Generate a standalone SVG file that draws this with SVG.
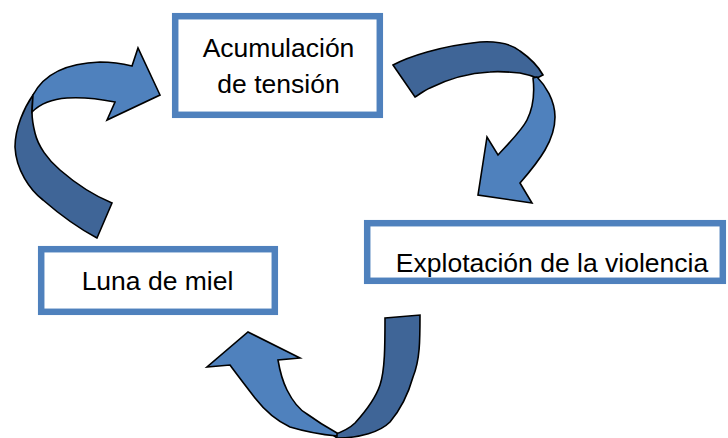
<svg xmlns="http://www.w3.org/2000/svg" width="728" height="438" viewBox="0 0 728 438">
<style>
.box{fill:#fff;stroke:#4F81BD;stroke-width:6.5}
.lbl{font-family:"Liberation Sans",Arial,sans-serif;font-size:26.5px;fill:#000;text-anchor:middle}
.lt{fill:#4F81BD;stroke:#000;stroke-width:1.6;stroke-linejoin:miter}
.dk{fill:#3F6597;stroke:#000;stroke-width:1.6;stroke-linejoin:miter}
</style>
<rect width="728" height="438" fill="#fff"/>
<g id="connectors">
<g id="arrow-left">
<path class="dk" d="M33,95 C24,108 15,128 15,147 C16,170 30,190 43,200 C58,213 78,228 97,238 L112,203 C95,196 75,183 60,170 C48,160 38,146 35,133 C33,125 32,118 32,112 Z"/>
<path class="lt" d="M33,95 C45,72 70,63 100,62 C112,62 124,64 132,66 L138,48 L160,95 L107,120 L115,102 C100,99 83,97 67,98 C52,99 40,104 32,112 Z"/>
</g>
<g id="arrow-right">
<path class="dk" d="M393,65 C408,57 440,46 480,42 C497,41 510,43 520,51 C530,58 538,66 543,75 L537,78 C530,75 525,74 520,73 C510,72 500,71 490,72 C470,73 450,78 430,88 C425,90 420,94 415,97 Z"/>
<path class="lt" d="M537,77 C545,85 555,100 555,117 C555,140 540,160 520,183 L532,203 L478,195 L487,137 L498,155 C510,142 522,130 527,120 C533,108 535,95 533,78 Z"/>
</g>
<g id="arrow-bottom">
<path class="dk" d="M385,318 L420,315 C420,340 420,360 413,377 C408,395 400,410 390,422 C380,432 360,438 337,438 L333,435 C342,432 350,428 355,423 C365,412 375,400 380,385 C385,370 385,345 385,318 Z"/>
<path class="lt" d="M337,436 C315,434 300,430 290,427 C275,420 262,407 255,398 C245,385 235,372 230,365 L207,367 L248,332 L300,358 L278,360 C280,372 283,382 287,390 C293,402 300,410 307,414 C318,422 328,428 337,433 Z"/>
</g>
</g>
<g id="node-acumulacion">
<rect class="box" x="175.2" y="16.2" width="204.6" height="98.6"/>
<text class="lbl" x="278.5" y="57">Acumulación</text>
<text class="lbl" x="278.5" y="93">de tensión</text>
</g>
<g id="node-explotacion">
<rect class="box" x="367.2" y="223.2" width="355.6" height="57.6"/>
<text class="lbl" x="552" y="272">Explotación de la violencia</text>
</g>
<g id="node-luna">
<rect class="box" x="41.2" y="249.2" width="233.6" height="62.6"/>
<text class="lbl" x="157.5" y="290">Luna de miel</text>
</g>
</svg>
